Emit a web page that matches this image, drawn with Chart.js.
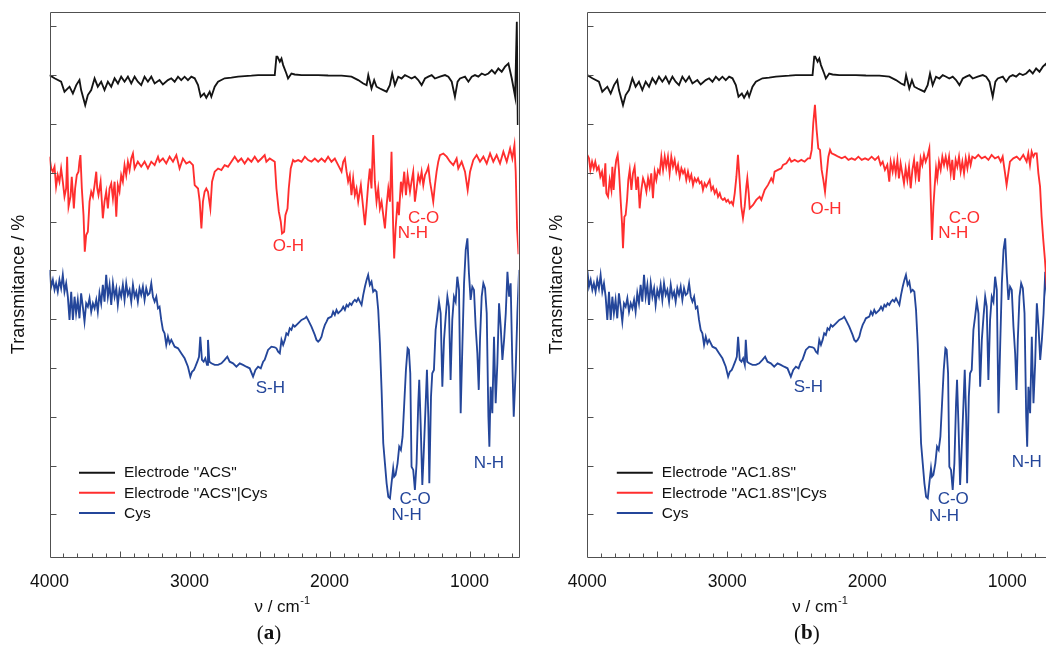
<!DOCTYPE html>
<html><head><meta charset="utf-8">
<script src="https://cdn.jsdelivr.net/npm/chart.js@4"></script>
<style>
html,body{margin:0;padding:0;background:#fff;overflow:hidden;width:1046px;height:652px;position:relative}
canvas{position:absolute;top:0}
#ca{left:0}
#cb{left:535px}
</style></head><body>
<canvas id="ca" width="540" height="652"></canvas>
<canvas id="cb" width="535" height="652"></canvas>
<script>
// ---- axis ranges & ticks ----
const xMin = 650, xMax = 4000;
const yMin = -21.35, yMax = 251.15;
const xTickLabels = [4000, 3000, 2000, 1000];
const xMajorTicks = [1000, 1500, 2000, 2500, 3000, 3500];
const xMinorTicks = [700,800,900,1100,1200,1300,1400,1600,1700,1800,1900,2100,2200,2300,2400,2600,2700,2800,2900,3100,3200,3300,3400,3600,3700,3800,3900];
const yTicks = [0, 24.4, 48.8, 73.2, 97.6, 122, 146.4, 170.8, 195.2, 219.6, 244];

// ---- series names ----
const namesA = ['Electrode "ACS"', 'Electrode "ACS"|Cys', 'Cys'];
const namesB = ['Electrode "AC1.8S"', 'Electrode "AC1.8S"|Cys', 'Cys'];

// ---- spectra: [wavenumber cm-1, transmittance (offset, arb. units)] ----
const electrodeBare = [[4000,219.6],[3964,218],[3917,216.3],[3893,211.3],[3857,213.8],[3833,210.4],[3809,214.6],[3786,217.1],[3774,212.1],[3745,204.6],[3726,209.6],[3702,212.1],[3678,218],[3655,213.8],[3631,216.3],[3607,212.1],[3583,216.3],[3559,213.8],[3535,218],[3511,215.4],[3488,218.8],[3464,216.3],[3440,218.8],[3416,215.4],[3392,218.8],[3369,216.3],[3345,214.6],[3321,218.8],[3297,216.3],[3273,218.8],[3249,215.4],[3214,217.1],[3190,214.9],[3154,217.1],[3130,218],[3106,216.3],[3082,218.8],[3059,217.1],[3035,218.8],[3011,217.1],[2987,218.8],[2963,218],[2939,214.6],[2920,208.8],[2896,210.4],[2880,208.3],[2856,211.3],[2844,208.8],[2820,213.8],[2796,216.3],[2749,218],[2701,218.3],[2653,218.8],[2606,219.1],[2558,219.3],[2510,219.6],[2463,219.6],[2391,219.6],[2379,228.8],[2372,228.8],[2355,226.3],[2343,227.9],[2331,224.6],[2308,220.4],[2296,217.9],[2272,220.4],[2248,219.9],[2200,219.6],[2153,219.6],[2081,219.6],[2010,219.4],[1914,219.3],[1843,218.8],[1795,217.1],[1759,215.4],[1735,214.6],[1723,219.6],[1700,212.9],[1681,217.1],[1664,213.8],[1640,212.9],[1616,212.1],[1592,211.3],[1569,214.6],[1552,220.4],[1533,214.6],[1509,218.8],[1485,217.9],[1461,219.6],[1437,218.8],[1414,217.9],[1390,218.8],[1366,217.1],[1342,214.6],[1318,217.9],[1294,218.8],[1270,219.6],[1247,217.9],[1211,218.8],[1175,219.6],[1151,218.8],[1127,216.3],[1104,208.8],[1085,216.3],[1068,217.9],[1032,218.8],[1008,216.3],[984,218.8],[961,219.6],[937,218.8],[913,220.4],[889,219.6],[865,220.4],[841,222.1],[818,220.4],[794,222.9],[770,221.3],[746,223.8],[722,225.4],[698,217.9],[674,208.8],[662,246.3],[655,194.6]];

const electrodeCysA = [[4000,178.8],[3988,172.9],[3976,171.3],[3964,173.8],[3953,163.8],[3941,169.6],[3929,166.3],[3917,172.9],[3905,166.3],[3893,158.8],[3881,162.9],[3874,178.8],[3864,153.8],[3850,158.8],[3841,168.8],[3826,152.9],[3817,162.9],[3805,169.6],[3793,171.3],[3786,176.3],[3779,179.6],[3769,162.9],[3757,149.6],[3748,131.3],[3738,139.6],[3726,141.3],[3714,156.3],[3702,161.3],[3690,158.8],[3678,164.6],[3666,171.3],[3659,162.9],[3650,159.6],[3635,166.3],[3626,156.3],[3619,148],[3607,156.3],[3595,161.3],[3583,152.9],[3571,162.9],[3559,165.4],[3547,157.9],[3535,166.3],[3523,148.8],[3512,164.6],[3500,161.3],[3488,169.6],[3476,166.3],[3464,174.6],[3452,169.6],[3440,176.3],[3428,172.1],[3416,177.9],[3404,180.4],[3392,172.9],[3369,176.3],[3345,173.8],[3321,176.3],[3297,172.9],[3273,176.3],[3249,174.6],[3225,178.8],[3214,176.3],[3190,177.9],[3166,175.4],[3142,178.8],[3118,176.3],[3094,179.6],[3071,172.9],[3047,177.9],[3023,175.4],[2999,176.3],[2975,174.6],[2963,164.6],[2939,162.9],[2927,156.3],[2915,142.9],[2904,156.3],[2892,161.3],[2880,162.9],[2868,161.3],[2851,152.9],[2839,166.3],[2820,171.3],[2796,172.9],[2772,172.1],[2749,174.6],[2725,173.8],[2701,176.3],[2677,178.8],[2653,176.3],[2630,177.9],[2606,175.4],[2582,177.9],[2558,176.3],[2534,178.8],[2510,176.3],[2486,177.9],[2463,179.6],[2451,176.3],[2427,177.9],[2391,176.3],[2379,162.9],[2362,151.3],[2348,146.3],[2339,140.4],[2324,141.3],[2315,149.6],[2300,152.9],[2291,162.9],[2277,172.9],[2260,177.1],[2248,176.3],[2224,177.1],[2200,176.3],[2176,178.8],[2153,177.1],[2129,176.3],[2105,177.9],[2081,176.3],[2057,177.9],[2033,176.3],[2010,178.8],[1986,176.3],[1962,177.9],[1938,174.6],[1914,171.3],[1902,176.3],[1890,177.9],[1878,171.3],[1867,166.3],[1855,169.6],[1843,159.6],[1831,167.9],[1819,159.6],[1807,162.9],[1795,156.3],[1776,164.6],[1759,152.9],[1747,144.6],[1735,154.6],[1724,164.6],[1712,172.9],[1700,162.9],[1688,189.6],[1676,166.3],[1664,156.3],[1652,162.9],[1640,152.9],[1628,156.3],[1616,149.6],[1604,142.9],[1592,154.6],[1580,162.9],[1568,156.3],[1557,181.3],[1545,142.9],[1538,127.9],[1528,142.9],[1514,156.3],[1504,149.6],[1490,166.3],[1480,161.3],[1466,171.3],[1454,159.6],[1442,169.6],[1425,161.3],[1414,166.3],[1402,171.3],[1390,156.3],[1378,162.9],[1366,169.6],[1354,166.3],[1342,171.3],[1330,164.6],[1318,169.6],[1306,171.3],[1294,173.8],[1282,166.3],[1270,161.3],[1259,156.3],[1247,164.6],[1235,171.3],[1223,176.3],[1211,179.6],[1187,180.4],[1163,178.8],[1139,176.3],[1116,174.6],[1092,177.9],[1080,172.9],[1056,176.3],[1032,171.3],[1013,162.1],[996,171.3],[973,177.1],[949,179.6],[925,176.3],[901,178.8],[877,175.4],[853,180.4],[830,176.3],[806,179.6],[782,175.4],[758,181.3],[734,176.3],[710,182.9],[694,177.9],[679,184.6],[670,171.3],[660,142.9],[650,130]];

const electrodeCysB = [[4000,179.7],[3988,178],[3978,172.2],[3966,176.3],[3954,173],[3943,176.3],[3931,172.2],[3919,173.8],[3907,168.8],[3895,171.3],[3883,163.8],[3871,175.5],[3864,160.5],[3852,158.8],[3840,167.2],[3828,162.2],[3821,173.8],[3812,162.2],[3802,172.2],[3793,177.2],[3783,179.7],[3774,172.2],[3762,157.2],[3752,145.5],[3745,133],[3735,148.8],[3726,149.7],[3716,157.2],[3707,167.2],[3697,172.2],[3685,162.2],[3674,170.5],[3662,173.8],[3650,162.2],[3638,168.8],[3626,153],[3614,162.2],[3602,168],[3590,165.5],[3578,161.3],[3566,168],[3555,163.8],[3543,170.5],[3531,158],[3519,171.3],[3507,167.2],[3495,172.2],[3483,170.5],[3471,178.8],[3459,172.2],[3447,178.8],[3436,173.8],[3424,178.8],[3412,170.5],[3400,178.8],[3388,173.8],[3376,177.2],[3364,171.3],[3352,174.7],[3340,168.8],[3328,173],[3316,170.5],[3305,172.2],[3293,167.2],[3281,171.3],[3269,167.2],[3257,169.7],[3245,164.7],[3233,168],[3221,166.3],[3209,168],[3197,165.5],[3185,166.3],[3174,162.2],[3162,165.5],[3150,163.8],[3138,165.5],[3126,167.2],[3114,162.2],[3102,163.8],[3090,160.5],[3078,162.2],[3066,158.8],[3054,160.5],[3043,158],[3031,157.2],[3019,158],[3007,156.3],[2995,157.2],[2983,155.5],[2971,156.3],[2959,154.7],[2947,160.5],[2935,168.8],[2924,179.7],[2912,167.2],[2900,153.8],[2888,148],[2876,153.8],[2864,163.8],[2857,168],[2847,160.5],[2840,153],[2816,154.7],[2793,157.2],[2769,158.8],[2757,157.2],[2733,162.2],[2709,164.7],[2686,168],[2674,166.3],[2662,171.3],[2638,172.2],[2614,173],[2602,174.7],[2578,175.5],[2555,178],[2543,176.3],[2519,177.2],[2495,176.3],[2471,177.2],[2448,176.3],[2424,178],[2409,178],[2397,182.2],[2386,195.5],[2374,204.7],[2362,192.2],[2350,183],[2338,182.2],[2326,172.2],[2314,167.2],[2302,161.3],[2290,170.5],[2278,178.8],[2266,182.2],[2255,180.5],[2231,179.7],[2207,178.8],[2183,178],[2159,178.8],[2135,177.2],[2112,178],[2088,177.2],[2064,178.8],[2040,177.2],[2016,178],[1993,177.2],[1969,178.8],[1945,177.2],[1921,178.8],[1905,174.7],[1890,176.3],[1874,172.2],[1857,174.7],[1843,166.3],[1833,176.3],[1819,171.3],[1809,176.3],[1797,170.5],[1785,177.2],[1774,168],[1762,175.5],[1750,170.5],[1738,165.5],[1726,173],[1714,167.2],[1702,173.8],[1690,163],[1678,172.2],[1666,177.2],[1655,168.8],[1643,176.3],[1631,166.3],[1619,178],[1607,174.7],[1595,179.7],[1583,176.3],[1571,178.8],[1557,183],[1547,158.8],[1538,137.2],[1528,153.8],[1519,163.8],[1509,173],[1500,168],[1488,176.3],[1476,172.2],[1464,178.8],[1452,174.7],[1440,178.8],[1428,173.8],[1416,178.8],[1404,170.5],[1393,177.2],[1381,167.2],[1369,177.2],[1357,173.8],[1345,178.8],[1333,171.3],[1321,176.3],[1309,170.5],[1297,178],[1285,173],[1273,178.8],[1262,174.7],[1250,178.8],[1231,178],[1207,179.7],[1183,178],[1159,178.8],[1135,177.2],[1112,179.7],[1088,178],[1064,178.8],[1047,176.3],[1033,178.8],[1016,170.5],[1005,164.7],[993,170.5],[981,176.3],[957,178],[933,178.8],[910,177.2],[886,179.7],[862,176.3],[850,180.5],[838,174.7],[826,181.3],[814,178.8],[802,180.5],[790,180.5],[778,170.5],[766,163.8],[755,148.8],[743,137.2],[731,127.2],[715,110],[700,95]];

const cysSpectrum = [[4000,122.2],[3988,113.8],[3976,117.2],[3964,112.2],[3953,115.5],[3941,111.3],[3929,117.2],[3917,113],[3905,119.7],[3893,111.3],[3881,115.5],[3869,108.8],[3857,97.2],[3845,111.3],[3833,97.2],[3821,108.8],[3810,100.5],[3798,107.2],[3786,98],[3774,110.5],[3762,103.8],[3750,96.3],[3738,105.5],[3726,103.8],[3714,108],[3702,101.3],[3690,105.5],[3678,103],[3666,107.2],[3655,101.3],[3643,110.5],[3631,105.5],[3619,114.7],[3607,106.3],[3595,119.7],[3583,108.8],[3571,114.7],[3559,104.7],[3547,115.5],[3535,108.8],[3523,113],[3512,104.7],[3500,112.2],[3488,108.8],[3476,114.7],[3464,107.2],[3452,115.5],[3440,109.7],[3428,112.2],[3416,106.3],[3404,114.7],[3392,108.8],[3380,111.3],[3369,106.3],[3357,113],[3345,109.7],[3333,113.8],[3321,107.2],[3309,113],[3297,109.7],[3285,110.5],[3273,115.5],[3261,108.8],[3249,106.3],[3237,108.8],[3225,103],[3214,103.8],[3202,97.2],[3190,92.2],[3178,90.5],[3166,84.7],[3154,88.8],[3142,85.5],[3130,87.2],[3106,83.8],[3082,83],[3059,80.5],[3035,78],[3011,73.8],[2994,68.8],[2982,71.3],[2968,72.2],[2958,73.8],[2944,76.3],[2932,78.8],[2923,88.8],[2911,77.2],[2899,76.3],[2887,78],[2875,74.7],[2868,87.2],[2858,76.3],[2844,75.5],[2820,74.7],[2796,74.7],[2772,75.5],[2749,77.2],[2730,78.8],[2713,76.3],[2689,75.5],[2665,73.8],[2641,75.5],[2618,74.7],[2594,73.8],[2570,73],[2546,68.8],[2529,72.2],[2510,73.8],[2491,73],[2474,76.3],[2463,77.2],[2451,79.7],[2439,82.2],[2415,83.8],[2391,83.5],[2379,83],[2367,81.3],[2355,80.5],[2343,87.2],[2331,84.7],[2319,87.2],[2308,90.5],[2296,89.7],[2284,93],[2272,92.2],[2260,94.7],[2248,93.8],[2224,95.5],[2200,97.2],[2176,98],[2165,98.8],[2153,97.2],[2129,93.8],[2105,89.7],[2093,87.2],[2081,86.3],[2069,87.2],[2057,88.8],[2045,92.2],[2033,94.7],[2021,96.3],[2010,98],[1986,98.8],[1974,101.3],[1962,99.7],[1950,102.2],[1938,100.5],[1914,102.2],[1902,103.8],[1890,102.2],[1878,104.7],[1867,103.8],[1855,105.5],[1843,104.7],[1831,106.3],[1819,107.2],[1807,106.3],[1795,108],[1783,106.3],[1771,104.7],[1759,109.7],[1747,113.8],[1735,117.2],[1724,119.7],[1712,114.7],[1700,116.3],[1688,111.3],[1676,112.2],[1664,111.3],[1652,102.2],[1640,85.5],[1628,62.2],[1616,35.5],[1604,25.5],[1592,15.5],[1580,8.8],[1568,8],[1557,15.5],[1545,23],[1538,18.8],[1528,19.7],[1514,25.5],[1502,33.8],[1490,32.2],[1478,38.8],[1466,55.5],[1454,72.2],[1442,83],[1433,82.2],[1423,70.5],[1414,23.8],[1402,22.2],[1390,12.2],[1378,25.5],[1366,55.5],[1359,67.2],[1349,45.5],[1337,14.7],[1328,28.8],[1313,55.5],[1304,72.2],[1294,48.8],[1287,15.5],[1275,58.8],[1266,70.5],[1254,72.2],[1242,92.2],[1230,98.8],[1218,106.3],[1206,100.5],[1194,63.8],[1182,87.2],[1170,98.8],[1158,108.8],[1147,103.8],[1135,67.2],[1123,97.2],[1111,108.8],[1099,106.3],[1087,118.8],[1075,112.2],[1063,50.5],[1051,83.8],[1039,115.5],[1027,132.2],[1015,138],[1004,120.5],[992,107.2],[980,113.8],[968,112.2],[956,93.8],[944,80.5],[934,62.2],[925,87.2],[913,108.8],[901,115.5],[889,113],[877,100.5],[865,48.8],[858,33.8],[849,63.8],[837,50.5],[825,88.8],[813,55.5],[801,75.5],[789,105.5],[777,93.8],[765,77.2],[753,87.2],[741,100.5],[729,121.3],[717,108.8],[706,115.5],[694,75.5],[684,48.8],[670,72.2],[658,100.5],[646,122.2]];

// ---- band labels: [text, wavenumber, transmittance, series index] ----
const bandsA = [['O-H',2294,133.8,1],['C-O',1328,148,1],['N-H',1404,140.5,1],['S-H',2423,63,2],['C-O',1389,7.5,2],['N-H',1449,-0.4,2],['N-H',861,25.5,2]];
const bandsB = [['O-H',2295,152.5,1],['C-O',1307,148,1],['N-H',1386,140.5,1],['S-H',2421,63.3,2],['C-O',1386,7.5,2],['N-H',1452,-1.2,2],['N-H',861,25.8,2]];

const colors = ['#141414', '#ff2e2e', '#24469a'];
const SANS = '"Liberation Sans", Arial, sans-serif';
const SERIF = '"Liberation Serif", "Times New Roman", serif';

function toXY(arr){ return arr.map(p => ({x: p[0], y: p[1]})); }

const deco = {
  id: 'deco',
  afterDraw(chart, args, o) {
    const ctx = chart.ctx, a = chart.chartArea, xs = chart.scales.x, ys = chart.scales.y;
    ctx.save();
    // frame
    ctx.strokeStyle = '#505050'; ctx.lineWidth = 1;
    ctx.beginPath();
    ctx.rect(Math.round(a.left)+0.5, Math.round(a.top)+0.5, Math.round(a.right-a.left), Math.round(a.bottom-a.top));
    ctx.stroke();
    // x ticks (inward)
    ctx.beginPath();
    const bt = Math.round(a.bottom)+0.5;
    xMajorTicks.forEach(v => { const x = Math.round(xs.getPixelForValue(v))+0.5; ctx.moveTo(x, bt); ctx.lineTo(x, bt-6); });
    xMinorTicks.forEach(v => { const x = Math.round(xs.getPixelForValue(v))+0.5; ctx.moveTo(x, bt); ctx.lineTo(x, bt-4); });
    // y ticks (inward)
    const lt = Math.round(a.left)+0.5;
    yTicks.forEach(v => { const y = Math.round(ys.getPixelForValue(v))+0.5; ctx.moveTo(lt, y); ctx.lineTo(lt+6, y); });
    ctx.stroke();
    // x tick labels
    ctx.fillStyle = '#111';
    ctx.font = '17.5px ' + SANS;
    ctx.textAlign = 'center'; ctx.textBaseline = 'middle';
    xTickLabels.forEach(v => ctx.fillText(String(v), xs.getPixelForValue(v), a.bottom + 25));
    // x title with superscript
    const cx = (a.left + a.right) / 2 - 2;
    const main = '\u03bd / cm', sup = '-1';
    ctx.font = '17px ' + SANS;
    const w1 = ctx.measureText(main).width;
    ctx.font = '11px ' + SANS;
    const w2 = ctx.measureText(sup).width;
    const sx = cx - (w1 + w2) / 2;
    ctx.textAlign = 'left';
    ctx.font = '17px ' + SANS;
    ctx.fillText(main, sx, a.bottom + 50);
    ctx.font = '11px ' + SANS;
    ctx.fillText(sup, sx + w1 + 0.5, a.bottom + 44);
    // panel tag
    const tag = o.tag;
    ctx.font = '21px ' + SERIF;
    const pw = ctx.measureText('(').width;
    ctx.font = 'bold 21px ' + SERIF;
    const lw = ctx.measureText(tag).width;
    const tx = (a.left + a.right) / 2 - 15 - (2 * pw + lw) / 2;
    const ty = a.bottom + 77;
    ctx.font = '21px ' + SERIF; ctx.fillText('(', tx, ty);
    ctx.font = 'bold 21px ' + SERIF; ctx.fillText(tag, tx + pw, ty);
    ctx.font = '21px ' + SERIF; ctx.fillText(')', tx + pw + lw, ty);
    // y title
    ctx.save();
    ctx.translate(a.left - 30, (a.top + a.bottom) / 2);
    ctx.rotate(-Math.PI / 2);
    ctx.textAlign = 'center'; ctx.textBaseline = 'middle';
    ctx.font = '18px ' + SANS; ctx.fillStyle = '#111';
    ctx.fillText('Transmitance / %', 0, 0);
    ctx.restore();
    // band labels
    ctx.font = '17px ' + SANS;
    ctx.textAlign = 'center'; ctx.textBaseline = 'middle';
    o.bands.forEach(b => {
      ctx.fillStyle = colors[b[3]];
      ctx.fillText(b[0], xs.getPixelForValue(b[1]), ys.getPixelForValue(b[2]));
    });
    // legend
    ctx.font = '15.5px ' + SANS;
    ctx.textAlign = 'left';
    chart.data.datasets.forEach((ds, i) => {
      const y = 472.7 + i * 20.1;
      ctx.strokeStyle = ds.borderColor; ctx.lineWidth = 2;
      ctx.beginPath(); ctx.moveTo(a.left + 29.5, y); ctx.lineTo(a.left + 65.5, y); ctx.stroke();
      ctx.fillStyle = '#111';
      ctx.fillText(ds.label, a.left + 74.5, y + 0.5);
    });
    ctx.restore();
  }
};

function makeChart(id, names, redSeries, bands, tag, pad) {
  return new Chart(document.getElementById(id), {
    type: 'line',
    data: {
      datasets: [
        {label: names[0], data: toXY(electrodeBare), borderColor: colors[0]},
        {label: names[1], data: toXY(redSeries), borderColor: colors[1]},
        {label: names[2], data: toXY(cysSpectrum), borderColor: colors[2]}
      ]
    },
    options: {
      responsive: false, animation: false, devicePixelRatio: 1,
      layout: {padding: pad},
      elements: {line: {borderWidth: 1.85, tension: 0}, point: {radius: 0}},
      plugins: {legend: {display: false}, tooltip: {enabled: false}, deco: {bands, tag}},
      scales: {
        x: {type: 'linear', reverse: true, min: xMin, max: xMax,
            grid: {display: false}, border: {display: false}, ticks: {display: false},
            afterFit: s => { s.height = 0; }},
        y: {type: 'linear', min: yMin, max: yMax,
            grid: {display: false}, border: {display: false}, ticks: {display: false},
            afterFit: s => { s.width = 0; }}
      }
    },
    plugins: [deco]
  });
}

makeChart('ca', namesA, electrodeCysA, bandsA, 'a', {left: 49.5, right: 21.5, top: 12, bottom: 95});
makeChart('cb', namesB, electrodeCysB, bandsB, 'b', {left: 52.3, right: 13.7, top: 12, bottom: 95});
</script>
</body></html>
